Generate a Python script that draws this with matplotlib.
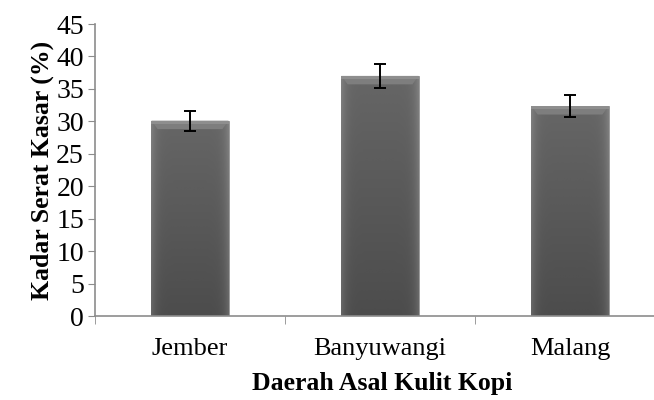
import numpy as np
import matplotlib.pyplot as plt
from matplotlib.patches import Polygon

# data
daerah = ['Jember', 'Banyuwangi', 'Malang']
kadar_serat = [30.1, 37.0, 32.35]
err = [1.55, 1.85, 1.67]
yticks = [0, 5, 10, 15, 20, 25, 30, 35, 40, 45]

plt.rcParams['font.family'] = ['Liberation Serif', 'DejaVu Serif']

fig = plt.figure(figsize=(6.54, 4.0), dpi=100)
ax = fig.add_axes([95 / 654, 84 / 400, 570 / 654, 292 / 400])

x = np.arange(len(daerah))
bw = 0.406
bars = ax.bar(x, kadar_serat, width=bw, color='#575757', edgecolor='#9a9a9a',
              lw=0.6, zorder=2)

# shaded look: vertical gradient, lighter sides, lighter bevel on top
ny, nx = 80, 60
vert = np.linspace(0.30, 0.40, ny)[:, None]          # bottom darker
side = np.abs(np.linspace(-1, 1, nx))[None, :] ** 8 * 0.10
img = vert + side
for b, v in zip(bars, kadar_serat):
    x0 = b.get_x()
    im = ax.imshow(img, cmap='gray', vmin=0, vmax=1, aspect='auto', origin='lower',
                   extent=(x0, x0 + bw, 0, v), zorder=2.5, interpolation='bicubic')
    im.set_clip_path(b)
    # top bevel
    h = 1.3
    ins = bw * 0.08
    bev = Polygon([(x0, v), (x0 + bw, v), (x0 + bw - ins, v - h), (x0 + ins, v - h)],
                  closed=True, facecolor='#7e7e7e', edgecolor='none', zorder=2.6)
    ax.add_patch(bev)
    ax.bar(x0 + bw / 2, 0.5, width=bw, bottom=v - 0.5, color='#8e8e8e', lw=0, zorder=2.7)

ax.errorbar(x, kadar_serat, yerr=err, fmt='none', ecolor='black',
            elinewidth=1.4, capsize=4.5, capthick=1.4, zorder=3)

ax.set_xlim(-0.5, 2.5)
ax.set_ylim(0, 45)
ax.set_yticks(yticks)
ax.set_xticks(x)
ax.set_xticklabels(daerah, fontsize=19)
ax.tick_params(axis='y', labelsize=20, length=5, color='#8c8c8c', direction='out', pad=3)
ax.tick_params(axis='x', length=0, pad=16)
ax.set_xticks([-0.5, 0.5, 1.5, 2.5], minor=True)
ax.tick_params(axis='x', which='minor', length=6, color='#8c8c8c', direction='out')

for s in ['top', 'right']:
    ax.spines[s].set_visible(False)
for s in ['left', 'bottom']:
    ax.spines[s].set_color('#8c8c8c')
    ax.spines[s].set_linewidth(1.2)

ax.set_ylabel('Kadar Serat Kasar (%)', fontsize=18.5, fontweight='bold')
ax.yaxis.set_label_coords(-41 / 570, 0.5)
ax.set_xlabel('Daerah Asal Kulit Kopi', fontsize=18.5, fontweight='bold')
ax.xaxis.set_label_coords((382 - 95) / 570, -56 / 292)

fig.savefig('out.png', dpi=100)
